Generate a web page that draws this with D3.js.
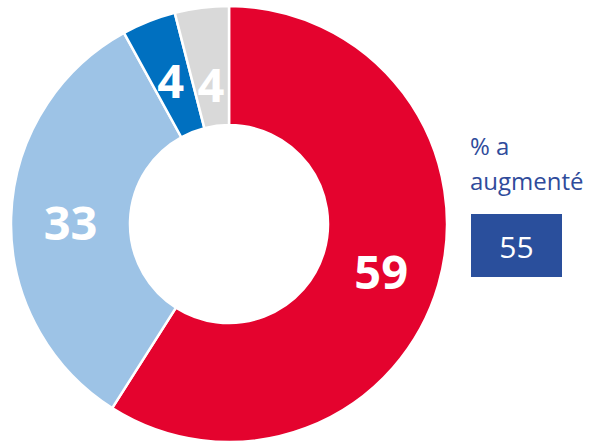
<!DOCTYPE html>
<html><head><meta charset="utf-8">
<script src="https://cdn.jsdelivr.net/npm/d3@7"></script>
<style>body{margin:0;background:#fff}svg{display:block}</style>
</head><body>
<svg id="c" width="595" height="445"></svg>
<script>
const categories = ["A", "B", "C", "D"];
const values = [59, 33, 4, 4];
const colors = ["#E4032E", "#9DC3E6", "#0070C0", "#D9D9D9"];
const legendLines = ["% a", "augmenté"];
const legendValue = 55;

const svg = d3.select("#c");
const cx = 229, cy = 224, R = 218, r0 = 99;
const g = svg.append("g").attr("transform", `translate(${cx},${cy})`);
const pie = d3.pie().sort(null).value(d => d.v);
const arcs = pie(categories.map((c, i) => ({c, v: values[i], col: colors[i]})));
const arc = d3.arc().innerRadius(r0).outerRadius(R);
const lastArc = d3.arc().innerRadius(r0 - 14).outerRadius(R - 14);
g.selectAll("path").data(arcs).join("path")
  .attr("d", arc).attr("fill", d => d.data.col)
  .attr("stroke", "#fff").attr("stroke-width", 2.5);
g.selectAll("text").data(arcs).join("text")
  .attr("transform", (d, i) => {
    const c = (i === arcs.length - 1 ? lastArc : arc).centroid(d);
    return `translate(${c[0]},${c[1] + 3})`;
  })
  .attr("text-anchor", "middle").attr("dominant-baseline", "central")
  .attr("font-family", "Open Sans, sans-serif").attr("font-weight", 700)
  .attr("font-size", 47).attr("fill", "#fff")
  .text(d => d.data.v);

const leg = svg.append("g");
leg.selectAll("text").data(legendLines).join("text")
  .attr("x", 470).attr("y", (d, i) => 155 + i * 35)
  .attr("font-family", "Open Sans, sans-serif").attr("font-size", 24)
  .attr("fill", "#2F4B9B").text(d => d);
leg.append("rect").attr("x", 471).attr("y", 214).attr("width", 91).attr("height", 63)
  .attr("fill", "#2A4F9C");
leg.append("text").attr("x", 516.5).attr("y", 246).attr("text-anchor", "middle")
  .attr("dominant-baseline", "central")
  .attr("font-family", "Open Sans, sans-serif").attr("font-size", 30)
  .attr("fill", "#fff").text(legendValue);
</script>
</body></html>
